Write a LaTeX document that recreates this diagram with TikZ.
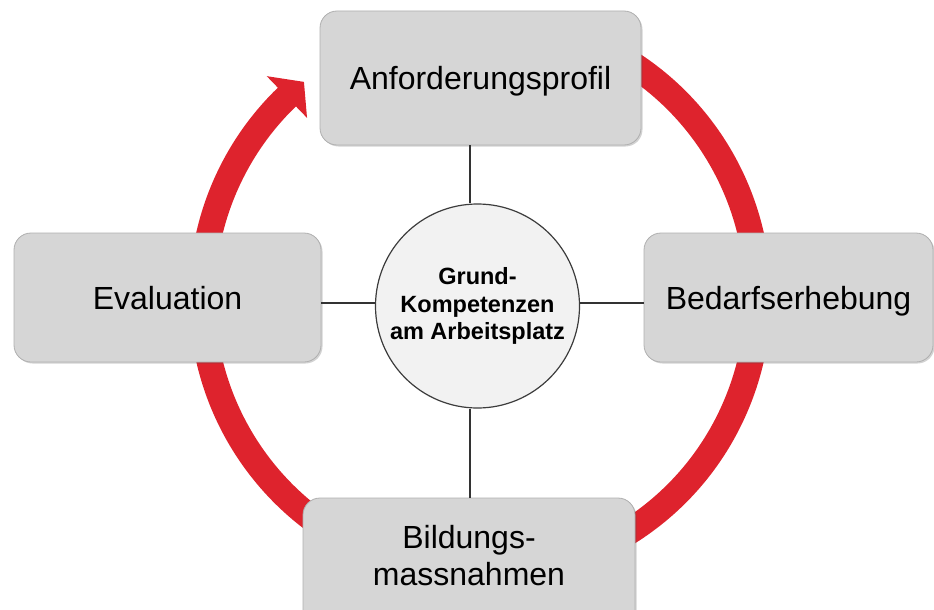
\documentclass[tikz,border=0pt]{standalone}
\usepackage{fontspec}
\setmainfont{Liberation Sans}
\usetikzlibrary{calc,shadows}
\definecolor{ringred}{RGB}{222,35,45}
\definecolor{boxfill}{RGB}{214,214,214}
\definecolor{boxline}{RGB}{175,175,175}
\definecolor{circfill}{RGB}{242,242,242}
\definecolor{circline}{RGB}{60,60,60}
\tikzset{
  stagebox/.style={draw=boxline, line width=0.8pt, fill=boxfill, rounded corners=17pt,
    inner sep=0pt, font=\fontsize{32}{37}\selectfont,
    drop shadow={shadow xshift=1.5pt, shadow yshift=-1.5pt, opacity=0.25, fill=black!70}},
  oneline/.style={text height=23pt, text depth=0pt},
  hub/.style={circle, draw=circline, line width=1.2pt, fill=circfill, minimum size=204pt,
    inner sep=0pt, align=center, font=\fontsize{23.5}{27.5}\selectfont\bfseries},
  conn/.style={draw=black!80, line width=1.2pt},
  ring/.style={draw=ringred, line width=26pt}
}
\begin{document}
\begin{tikzpicture}[x=1pt, y=-1pt]
\useasboundingbox (0,0) rectangle (934,610);
\coordinate (O) at (480,297);
% red cycle ring
\draw[ring] ($(O)+(68:278pt)$) arc[start angle=68, end angle=-226.3, radius=278pt];
\fill[ringred] ($(O)+(134:249pt)$) -- ($(O)+(129.3:278pt)$) -- ($(O)+(134:307pt)$) -- cycle;
% stage boxes
\node[stagebox, oneline, minimum width=321pt, minimum height=134pt] (top) at (480.5,78) {Anforderungsprofil};
\node[stagebox, oneline, minimum width=307pt, minimum height=129pt] (eval) at (167.5,297.5) {Evaluation};
\node[stagebox, oneline, minimum width=289pt, minimum height=129pt] (bed) at (788.5,297.5) {Bedarfserhebung};
\node[stagebox, align=center, text height=40pt, text depth=0pt, minimum width=332pt, minimum height=134pt] (bot) at (469,565) {Bildungs-\\massnahmen};
% hub
\node[hub] (c) at (477.5,306) {Grund-\\Kompetenzen\\am Arbeitsplatz};
% connectors
\draw[conn] ([xshift=-10.5pt]top.south) -- ([xshift=-7.5pt]c.north);
\draw[conn] ([xshift=-7.5pt]c.south) -- ([xshift=1pt]bot.north);
\draw[conn] ([yshift=-5.5pt]eval.east) -- ([yshift=3pt]c.west);
\draw[conn] ([yshift=3pt]c.east) -- ([yshift=-5.5pt]bed.west);
\end{tikzpicture}
\end{document}
